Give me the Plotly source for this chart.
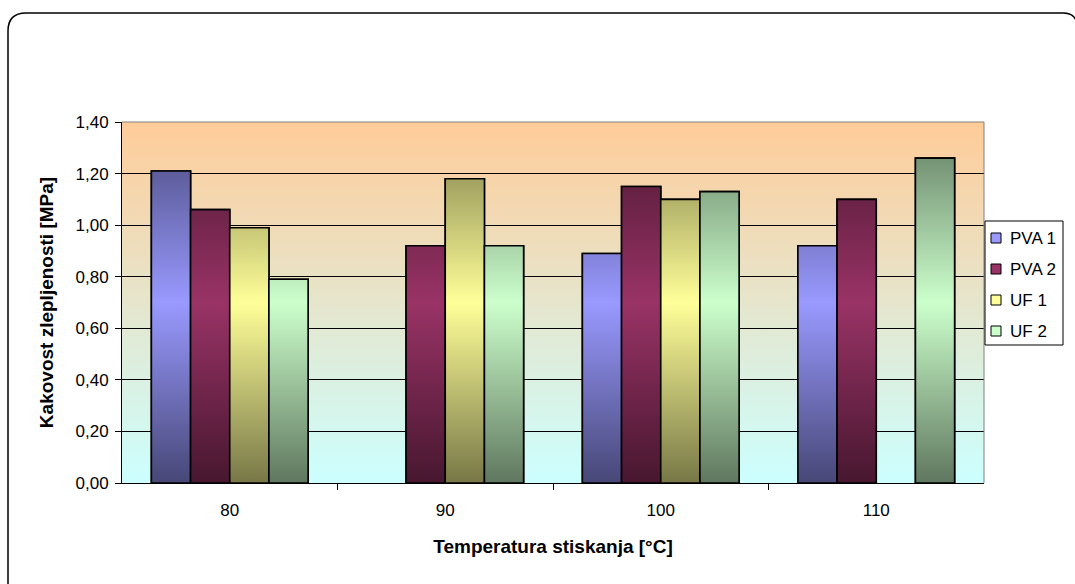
import base64
import plotly.graph_objects as go

# ---- data -------------------------------------------------------------
categories = ["80", "90", "100", "110"]
series_names = ["PVA 1", "PVA 2", "UF 1", "UF 2"]
pva1 = [1.21, None, 0.89, 0.92]
pva2 = [1.06, 0.92, 1.15, 1.10]
uf1 = [0.99, 1.18, 1.10, None]
uf2 = [0.79, 0.92, 1.13, 1.26]
y_tick_values = [0.0, 0.2, 0.4, 0.6, 0.8, 1.0, 1.2, 1.4]
x_title = "Temperatura stiskanja [°C]"
y_title = "Kakovost zlepljenosti [MPa]"

series_values = [pva1, pva2, uf1, uf2]
base_colors = ["#9999FF", "#993366", "#FFFF99", "#CCFFCC"]

# ---- geometry / style ---------------------------------------------------
W, H = 1075, 584
ML, MR, MT, MB = 122, 91, 122, 101
Y_MAX = 1.4
BAR_GAP = 1.5 / 5.5           # gap width 150 % of a bar
GROUP_W = 1 - BAR_GAP
BAR_W = GROUP_W / len(series_names)
FONT = "Liberation Sans, Arial, sans-serif"


def shade(hex_color, factor):
    h = hex_color.lstrip("#")
    r, g, b = (int(h[i:i + 2], 16) for i in (0, 2, 4))
    return "rgb({},{},{})".format(int(r * factor), int(g * factor), int(b * factor))


def px_x(px):
    return (px - ML) / (W - ML - MR)


def px_y(py):
    return (H - MB - py) / (H - MT - MB)


x_pos = list(range(len(categories)))
fig = go.Figure()

# solid bars (positioned by plotly's grouped-bar layout)
for j, (name, vals, col) in enumerate(zip(series_names, series_values, base_colors)):
    fig.add_trace(go.Bar(
        x=x_pos, y=vals, name=name, width=BAR_W,
        offset=-GROUP_W / 2 + j * BAR_W,
        marker=dict(color=col, line=dict(color="black", width=1.6)),
        showlegend=False,
    ))

# gradient skin on the same bar outlines
for j, (name, vals, col) in enumerate(zip(series_names, series_values, base_colors)):
    xs, ys = [], []
    for i, v in zip(x_pos, vals):
        if v is None:
            continue
        x0 = i - GROUP_W / 2 + j * BAR_W
        x1 = x0 + BAR_W
        xs += [x0, x0, x1, x1, x0, None]
        ys += [0, v, v, 0, 0, None]
    dark = shade(col, 0.47)
    fig.add_trace(go.Scatter(
        x=xs, y=ys, mode="lines", fill="toself", name=name,
        line=dict(color="black", width=1.6),
        fillgradient=dict(type="vertical", start=0, stop=Y_MAX,
                          colorscale=[[0, dark], [0.5, col], [1, dark]]),
        showlegend=False, hoverinfo="skip",
    ))

# plot-area background gradient
svg = ('<svg xmlns="http://www.w3.org/2000/svg" width="10" height="100" '
       'viewBox="0 0 10 100" preserveAspectRatio="none">'
       '<defs><linearGradient id="g" x1="0" y1="0" x2="0" y2="1">'
       '<stop offset="0" stop-color="#FFCC99"/><stop offset="1" stop-color="#CCFFFF"/>'
       '</linearGradient></defs><rect width="10" height="100" fill="url(#g)"/></svg>')
bg_src = "data:image/svg+xml;base64," + base64.b64encode(svg.encode()).decode()

shapes = []
# top and right edges of the plot area
shapes.append(dict(type="line", xref="x domain", yref="y domain", x0=0, x1=1, y0=1, y1=1,
                   line=dict(color="#808080", width=1), layer="above"))
shapes.append(dict(type="line", xref="x domain", yref="y domain", x0=1, x1=1, y0=0, y1=1,
                   line=dict(color="#808080", width=1), layer="above"))

# rounded chart frame
path = "M {a},{b} L {a},{c} Q {a},{d} {e},{d} L {f},{d} Q {g},{d} {g},{h} L {g},{b}".format(
    a=px_x(8), b=px_y(600), c=px_y(31), d=px_y(13), e=px_x(26),
    f=px_x(1063), g=px_x(1077), h=px_y(27))
shapes.append(dict(type="path", xref="paper", yref="paper", path=path,
                   line=dict(color="black", width=1.5)))

# legend box
shapes.append(dict(type="rect", xref="paper", yref="paper",
                   x0=px_x(985), x1=px_x(1063), y0=px_y(345), y1=px_y(221),
                   line=dict(color="black", width=1), fillcolor="white", layer="above"))
annotations = []
for k, (name, col) in enumerate(zip(series_names, base_colors)):
    cy = 238 + 31 * k
    shapes.append(dict(type="rect", xref="paper", yref="paper",
                       x0=px_x(991), x1=px_x(1001), y0=px_y(cy + 5), y1=px_y(cy - 5),
                       line=dict(color="black", width=1), fillcolor=col, layer="above"))
    annotations.append(dict(xref="paper", yref="paper", x=px_x(1008), y=px_y(cy),
                            xanchor="left", yanchor="middle", showarrow=False, text=name,
                            font=dict(family=FONT, size=17, color="black")))

fig.update_layout(
    width=W, height=H,
    margin=dict(l=ML, r=MR, t=MT, b=MB),
    paper_bgcolor="white", plot_bgcolor="rgba(0,0,0,0)",
    separators=",.",
    barmode="group",
    showlegend=False,
    font=dict(family=FONT, size=17, color="black"),
    images=[dict(source=bg_src, xref="x domain", yref="y domain", x=0, y=1,
                 sizex=1, sizey=1, xanchor="left", yanchor="top",
                 sizing="stretch", layer="below")],
    shapes=shapes,
    annotations=annotations,
    xaxis=dict(
        range=[-0.5, len(categories) - 0.5],
        tickmode="array", tickvals=x_pos, ticktext=categories,
        ticks="", showgrid=False, zeroline=False,
        showline=True, linecolor="black", linewidth=1,
        minor=dict(tickmode="array", tickvals=[i + 0.5 for i in x_pos[:-1]],
                   ticks="outside", ticklen=6, tickcolor="black", tickwidth=1,
                   showgrid=False),
        ticklabelstandoff=12,
        title=dict(text=x_title, font=dict(family=FONT, size=19, weight="bold"),
                   standoff=20),
    ),
    yaxis=dict(
        range=[0, Y_MAX],
        tickmode="array", tickvals=y_tick_values, tickformat=".2f",
        ticks="outside", ticklen=6, tickcolor="black",
        showgrid=True, gridcolor="black", gridwidth=1, zeroline=False,
        showline=True, linecolor="black", linewidth=1,
        ticklabelstandoff=3,
        title=dict(text=y_title, font=dict(family=FONT, size=19, weight="bold"),
                   standoff=16),
    ),
)

fig.write_html("out.html")
